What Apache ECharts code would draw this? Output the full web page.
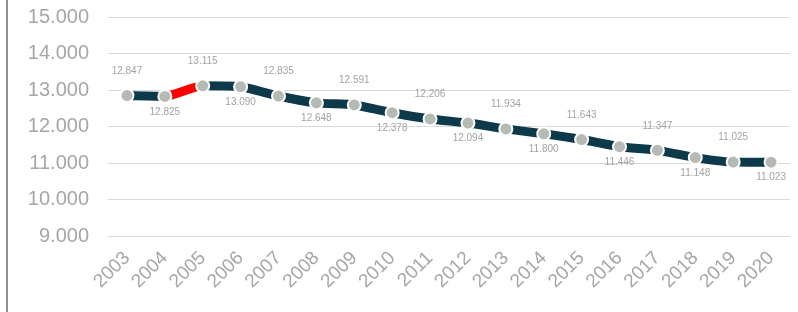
<!DOCTYPE html>
<html>
<head>
<meta charset="utf-8">
<script src="https://cdn.jsdelivr.net/npm/echarts@6/dist/echarts.min.js"></script>
<style>
  html, body { margin: 0; padding: 0; background: #fff; }
  #main { width: 798px; height: 312px; }
</style>
</head>
<body>
<div id="main"></div>
<script>
const years = ['2003', '2004', '2005', '2006', '2007', '2008', '2009', '2010', '2011',
  '2012', '2013', '2014', '2015', '2016', '2017', '2018', '2019', '2020'];
const values = [12847, 12825, 13115, 13090, 12835, 12648, 12591, 12378, 12206,
  12094, 11934, 11800, 11643, 11446, 11347, 11148, 11025, 11023];

const font = 'Liberation Sans, Arial, sans-serif';
const dark = '#0c3a4a';

// 12847 -> "12.847"
function fmt(v) {
  const s = String(Math.round(v));
  return s.replace(/\B(?=(\d{3})+(?!\d))/g, '.');
}

const markers = values.map(function (v, i) {
  const up = i % 2 === 0;
  return {
    value: v,
    label: { position: up ? 'top' : 'bottom', distance: up ? 12 : 3 }
  };
});

echarts.init(document.getElementById('main')).setOption({
  animation: false,
  graphic: [
    { type: 'rect', left: 6, top: 0, shape: { width: 2, height: 312 }, style: { fill: '#8c928c' } }
  ],
  grid: { left: 108, right: 8, top: 17, bottom: 76 },
  xAxis: {
    type: 'category',
    data: years,
    axisLine: { show: false },
    axisTick: { show: false },
    axisLabel: {
      rotate: 45,
      margin: 19,
      fontSize: 19,
      fontFamily: font,
      color: '#a3a8a3'
    }
  },
  yAxis: {
    type: 'value',
    min: 9000,
    max: 15000,
    interval: 1000,
    axisLine: { show: false },
    axisTick: { show: false },
    splitLine: { lineStyle: { color: '#d9d9d9', width: 1 } },
    axisLabel: {
      margin: 19,
      fontSize: 20,
      fontFamily: font,
      color: '#a3a8a3',
      formatter: fmt
    }
  },
  visualMap: {
    show: false,
    seriesIndex: 0,
    dimension: 0,
    pieces: [
      { lte: 1, color: dark },
      { gt: 1, lte: 2, color: '#ff0000' },
      { gt: 2, color: dark }
    ]
  },
  series: [
    {
      type: 'line',
      data: values,
      smooth: 0.2,
      showSymbol: false,
      lineStyle: { width: 9 },
      z: 2
    },
    {
      type: 'scatter',
      data: markers,
      symbolSize: 13,
      itemStyle: { color: '#b6bab4', borderColor: '#fff', borderWidth: 2, opacity: 1 },
      label: {
        show: true,
        fontSize: 10,
        fontFamily: font,
        color: '#a3a3a3',
        formatter: function (p) { return fmt(p.value); }
      },
      z: 3
    }
  ]
});
</script>
</body>
</html>
